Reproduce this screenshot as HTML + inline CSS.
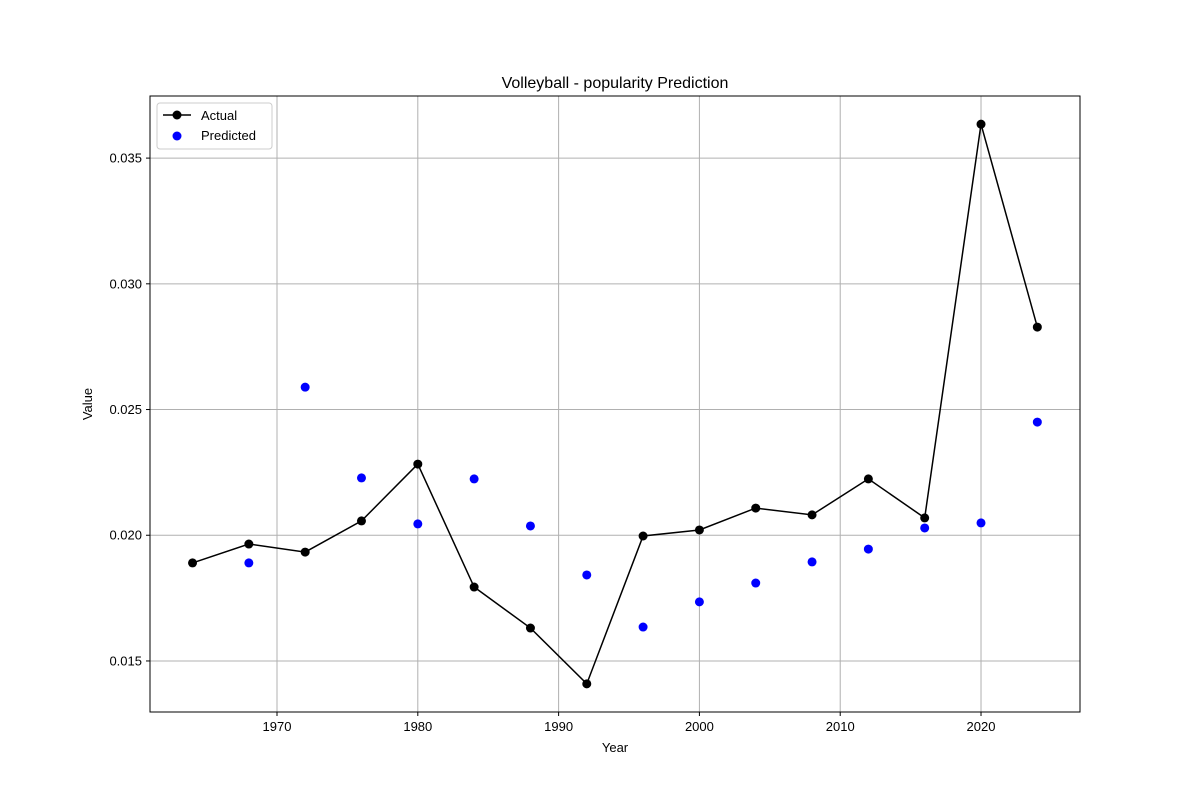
<!DOCTYPE html>
<html><head><meta charset="utf-8"><style>
body{margin:0;background:#fff;}
svg text{font-family:"Liberation Sans","DejaVu Sans",sans-serif;}
</style></head><body>
<svg id="chart" width="1200" height="800" xmlns="http://www.w3.org/2000/svg">
<rect width="1200" height="800" fill="#fff"/>
<g id="grid"></g><g id="ticks"></g><g id="series"></g>
<rect x="150" y="96" width="930" height="616" fill="none" stroke="#000" stroke-width="1"/>
<text x="615" y="88" font-size="16" text-anchor="middle">Volleyball - popularity Prediction</text>
<text x="615" y="752" font-size="13" text-anchor="middle">Year</text>
<text x="92" y="404" font-size="13" text-anchor="middle" transform="rotate(-90 92 404)">Value</text>
<g>
<rect x="157" y="103" width="115" height="46" fill="#fff" stroke="#ccc" rx="3"/>
<line x1="163" y1="115" x2="191" y2="115" stroke="#000" stroke-width="1.5"/>
<circle cx="177" cy="115" r="4.5" fill="#000"/>
<text x="201" y="120" font-size="13">Actual</text>
<circle cx="177" cy="136" r="4.5" fill="#0000ff"/>
<text x="201" y="140" font-size="13">Predicted</text>
</g>
</svg>
<script>
const years=[1964,1968,1972,1976,1980,1984,1988,1992,1996,2000,2004,2008,2012,2016,2020,2024];
const actual=[0.01890,0.01965,0.01933,0.02057,0.02283,0.01794,0.01631,0.01409,0.01997,0.02021,0.02108,0.02081,0.02224,0.02069,0.03635,0.02828];
const predYears=[1968,1972,1976,1980,1984,1988,1992,1996,2000,2004,2008,2012,2016,2020,2024];
const predicted=[0.01890,0.02589,0.02228,0.02045,0.02224,0.02037,0.01842,0.01635,0.01735,0.01810,0.01894,0.01945,0.02029,0.02049,0.02450];
const xTicks=[1970,1980,1990,2000,2010,2020];
const yTicks=[0.015,0.020,0.025,0.030,0.035];
const xMin=1960.98,xMax=2027.03,yMin=0.01297,yMax=0.03747;
const L=150,R=1080,T=96,B=712;
const sx=v=>L+(v-xMin)/(xMax-xMin)*(R-L);
const sy=v=>B-(v-yMin)/(yMax-yMin)*(B-T);
const NS='http://www.w3.org/2000/svg';
function mk(tag,attrs,parent){const e=document.createElementNS(NS,tag);for(const k in attrs)e.setAttribute(k,attrs[k]);document.getElementById(parent).appendChild(e);return e;}
xTicks.forEach(t=>{const x=sx(t);
 const g=mk('line',{x1:x,x2:x,y1:T,y2:B,stroke:'#b0b0b0','stroke-width':1},'grid');
 
 
 mk('line',{x1:x,x2:x,y1:B,y2:B+4,stroke:'#000'},'ticks');
 const tx=mk('text',{x:x,y:B+19,'font-size':13,'text-anchor':'middle'},'ticks');tx.textContent=t;
 
 
});
yTicks.forEach(t=>{const y=sy(t);
 const g=mk('line',{x1:L,x2:R,y1:y,y2:y,stroke:'#b0b0b0','stroke-width':1},'grid');
 
 
 mk('line',{x1:L-4,x2:L,y1:y,y2:y,stroke:'#000'},'ticks');
 const tx=mk('text',{x:L-8,y:y+4.5,'font-size':13,'text-anchor':'end'},'ticks');tx.textContent=t.toFixed(3);
 
 
});
const pl=mk('polyline',{points:years.map((y,i)=>sx(y)+','+sy(actual[i])).join(' '),fill:'none',stroke:'#000','stroke-width':1.5},'series');


years.forEach((y,i)=>{const c=mk('circle',{cx:sx(y),cy:sy(actual[i]),r:4.5,fill:'#000'},'series');
 
 });
predYears.forEach((y,i)=>{const c=mk('circle',{cx:sx(y),cy:sy(predicted[i]),r:4.5,fill:'#0000ff'},'series');
 
 });
</script>
</body></html>
